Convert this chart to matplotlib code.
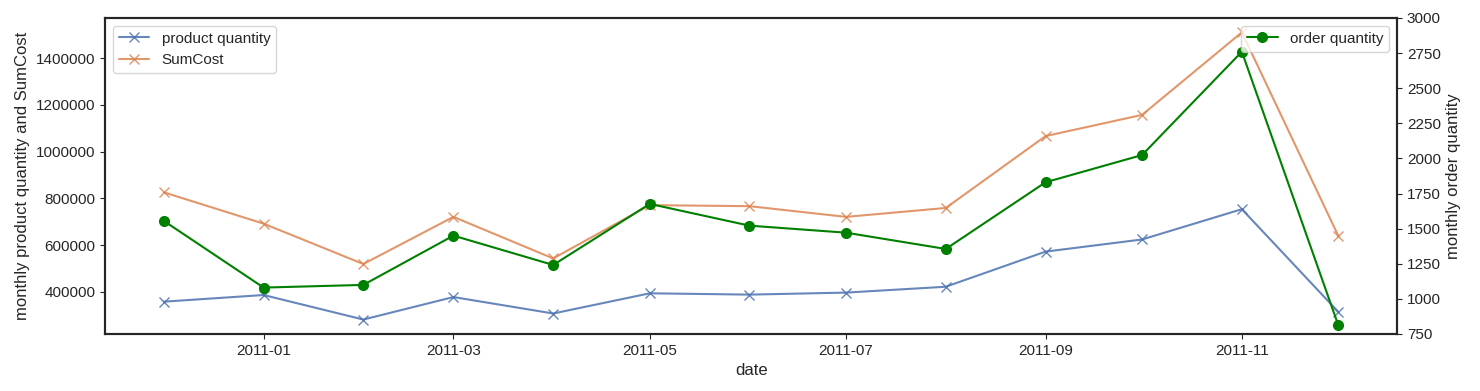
import matplotlib
matplotlib.use('Agg')
import matplotlib.pyplot as plt
import matplotlib.dates as mdates
import pandas as pd
import seaborn as sns

sns.set_style('ticks')
plt.rcParams['font.family'] = ['Liberation Sans', 'DejaVu Sans']
plt.rcParams['font.size'] = 11
plt.rcParams['axes.labelsize'] = 12

# valores (mensal)
meses = pd.date_range('2010-12-01', '2011-12-01', freq='MS')
product_quantity = [357700, 386200, 281200, 377500, 307100, 393500, 387900,
                    396500, 421600, 571900, 623800, 753400, 313600]
sum_cost = [825500, 691600, 518800, 720500, 542600, 770700, 766300,
            720500, 758600, 1066100, 1156900, 1510000, 638500]
order_quantity = [1555, 1080, 1099, 1450, 1241, 1676, 1521,
                  1471, 1355, 1830, 2024, 2760, 810]

fig, ax1 = plt.subplots(figsize=(14.8, 3.91), dpi=100)
fig.subplots_adjust(left=0.071, right=0.944, top=0.954, bottom=0.146)

ax1.plot(meses, product_quantity, marker='x', color='#4c72b0', alpha=0.85,
         lw=1.5, markersize=7, label='product quantity')
ax1.plot(meses, sum_cost, marker='x', color='#dd8452', alpha=0.85,
         lw=1.5, markersize=7, label='SumCost')
ax1.set_xlabel('date')
ax1.set_ylabel('monthly product quantity and SumCost')
ax1.legend(loc='upper left')

ax2 = ax1.twinx()
ax2.plot(meses, order_quantity, marker='o', color='green', lw=1.5,
         markersize=7, label='order quantity')
ax2.set_ylim(750, 3000)
ax2.set_ylabel('monthly order quantity')
ax2.legend(loc='upper right')

ax1.xaxis.set_major_locator(mdates.MonthLocator(bymonth=[1, 3, 5, 7, 9, 11]))
ax1.xaxis.set_major_formatter(mdates.DateFormatter('%Y-%m'))
ax1.ticklabel_format(axis='y', style='plain')

for ax in (ax1, ax2):
    for s in ax.spines.values():
        s.set_color('#262626')
        s.set_linewidth(1.5)

plt.savefig('out.png', dpi=100)
